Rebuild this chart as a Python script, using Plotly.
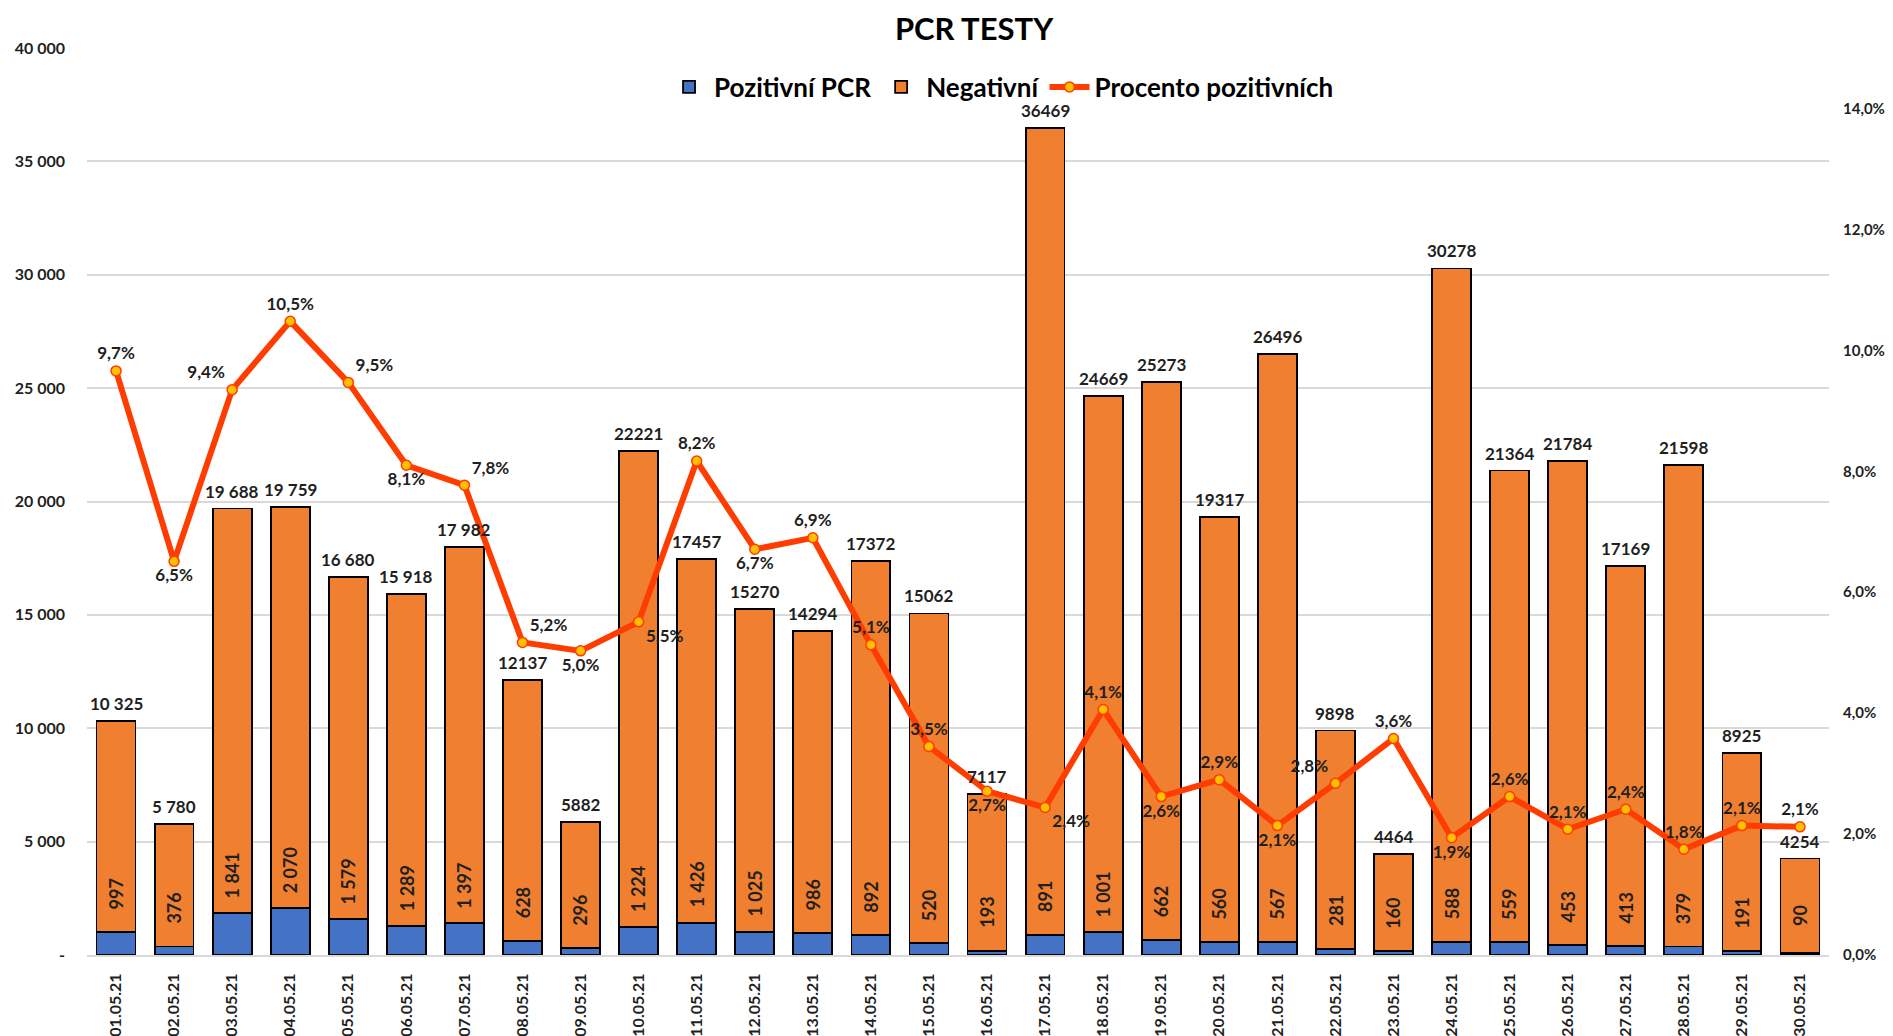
import plotly.graph_objects as go

dates = ["01.05.21", "02.05.21", "03.05.21", "04.05.21", "05.05.21", "06.05.21", "07.05.21",
         "08.05.21", "09.05.21", "10.05.21", "11.05.21", "12.05.21", "13.05.21", "14.05.21",
         "15.05.21", "16.05.21", "17.05.21", "18.05.21", "19.05.21", "20.05.21", "21.05.21",
         "22.05.21", "23.05.21", "24.05.21", "25.05.21", "26.05.21", "27.05.21", "28.05.21",
         "29.05.21", "30.05.21"]

positive = [997, 376, 1841, 2070, 1579, 1289, 1397, 628, 296, 1224, 1426, 1025, 986, 892,
            520, 193, 891, 1001, 662, 560, 567, 281, 160, 588, 559, 453, 413, 379, 191, 90]

negative = [9328, 5404, 17847, 17689, 15101, 14629, 16585, 11509, 5586, 20997, 16031, 14245,
            13308, 16480, 14542, 6924, 35578, 23668, 24611, 18757, 25929, 9617, 4304, 29690,
            20805, 21331, 16756, 21219, 8734, 4164]

totals = [10325, 5780, 19688, 19759, 16680, 15918, 17982, 12137, 5882, 22221, 17457, 15270,
          14294, 17372, 15062, 7117, 36469, 24669, 25273, 19317, 26496, 9898, 4464, 30278,
          21364, 21784, 17169, 21598, 8925, 4254]

total_labels = ["10 325", "5 780", "19 688", "19 759", "16 680", "15 918", "17 982", "12137",
                "5882", "22221", "17457", "15270", "14294", "17372", "15062", "7117", "36469",
                "24669", "25273", "19317", "26496", "9898", "4464", "30278", "21364", "21784",
                "17169", "21598", "8925", "4254"]

positive_labels = ["997", "376", "1 841", "2 070", "1 579", "1 289", "1 397", "628", "296",
                   "1 224", "1 426", "1 025", "986", "892", "520", "193", "891", "1 001", "662",
                   "560", "567", "281", "160", "588", "559", "453", "413", "379", "191", "90"]

percent = [0.0966, 0.0651, 0.0935, 0.1048, 0.0947, 0.0810, 0.0777, 0.0517, 0.0503, 0.0551,
           0.0817, 0.0671, 0.0690, 0.0513, 0.0345, 0.0271, 0.0244, 0.0406, 0.0262, 0.0290,
           0.0214, 0.0284, 0.0358, 0.0194, 0.0262, 0.0208, 0.0241, 0.0175, 0.0214, 0.0212]

percent_labels = ["9,7%", "6,5%", "9,4%", "10,5%", "9,5%", "8,1%", "7,8%", "5,2%", "5,0%",
                  "5,5%", "8,2%", "6,7%", "6,9%", "5,1%", "3,5%", "2,7%", "2,4%", "4,1%",
                  "2,6%", "2,9%", "2,1%", "2,8%", "3,6%", "1,9%", "2,6%", "2,1%", "2,4%",
                  "1,8%", "2,1%", "2,1%"]

left_ticks = [0, 5000, 10000, 15000, 20000, 25000, 30000, 35000, 40000]
left_tick_text = ["-", "5 000", "10 000", "15 000", "20 000", "25 000", "30 000", "35 000", "40 000"]

# label placement (style)
pct_pos = ["top center", "bottom center", "top left", "top center", "top right", "bottom center",
           "top right", "top right", "bottom center", "bottom right", "top center", "bottom center",
           "top center", "top center", "top center", "bottom center", "bottom right", "top center",
           "bottom center", "top center", "bottom center", "top left", "top center",
           "bottom center", "top center", "top center", "top center", "top center",
           "top center", "top center"]

FONT = "Lato"
TXT = "#1f1f1f"

fig = go.Figure()
fig.add_trace(go.Bar(
    x=dates, y=positive, name="Pozitivní PCR",
    marker=dict(color="#4472C4", line=dict(color="#000000", width=1.8)),
    hoverinfo="skip"))
fig.add_trace(go.Bar(
    x=dates, y=negative, name="Negativní",
    marker=dict(color="#F07F2F", line=dict(color="#000000", width=1.8)),
    hoverinfo="skip"))
fig.add_trace(go.Scatter(
    x=dates, y=percent, name="Procento pozitivních", yaxis="y2",
    mode="lines+markers+text",
    line=dict(color="#FF3D00", width=6),
    marker=dict(color="#FFC000", size=10, line=dict(color="#FF3D00", width=1.5)),
    text=percent_labels, textposition=pct_pos,
    textfont=dict(family=FONT, size=17, color=TXT, weight="bold"),
    cliponaxis=False, hoverinfo="skip"))

annotations = []
for d, t, tl in zip(dates, totals, total_labels):
    annotations.append(dict(x=d, y=t, xref="x", yref="y", text=tl, showarrow=False,
                            yanchor="bottom", yshift=5,
                            font=dict(family=FONT, size=17, color=TXT, weight="bold")))
for d, p, pl in zip(dates, positive, positive_labels):
    annotations.append(dict(x=d, y=p, xref="x", yref="y", text=pl, showarrow=False,
                            yanchor="middle", textangle=-90, yshift=38,
                            font=dict(family=FONT, size=18, color=TXT, weight="bold")))

# the page body adds an 8px margin, so the figure is 8px smaller and shifted
fig.update_layout(
    width=1885, height=1028,
    margin=dict(l=79, r=64, t=40, b=81),
    paper_bgcolor="white", plot_bgcolor="white",
    barmode="stack", bargap=0.33,
    separators=", ",
    title=dict(text="PCR TESTY", x=0.5125, xanchor="center", y=0.979, yanchor="middle",
               xref="container", yref="container",
               font=dict(family=FONT, size=31, color="#000000", weight="bold")),
    legend=dict(orientation="h", x=0.525, xanchor="center", y=0.957, yanchor="middle",
                bgcolor="rgba(255,255,255,0)",
                font=dict(family=FONT, size=26, color="#000000", weight="bold"),
                traceorder="normal", itemwidth=40),
    xaxis=dict(type="category", range=[-0.5, 29.5], tickangle=-90, showgrid=False,
               showline=True, linecolor="#D9D9D9", linewidth=2, ticks="",
               automargin=False, ticklabelstandoff=10,
               tickfont=dict(family=FONT, size=16, color=TXT, weight="bold")),
    yaxis=dict(range=[0, 40000], tickvals=left_ticks, ticktext=left_tick_text,
               showgrid=True, gridcolor="#D9D9D9", gridwidth=1.5, zeroline=False,
               ticks="", automargin=False, ticklabelstandoff=21,
               tickfont=dict(family=FONT, size=16, color=TXT, weight="bold")),
    yaxis2=dict(range=[0, 0.15], dtick=0.02, tickformat=".1%", overlaying="y", side="right",
                showgrid=False, zeroline=False, ticks="", automargin=False,
                ticklabelstandoff=13,
                tickfont=dict(family=FONT, size=15, color=TXT, weight="bold")),
    annotations=annotations,
    showlegend=True,
)

fig.write_html("out.html")
